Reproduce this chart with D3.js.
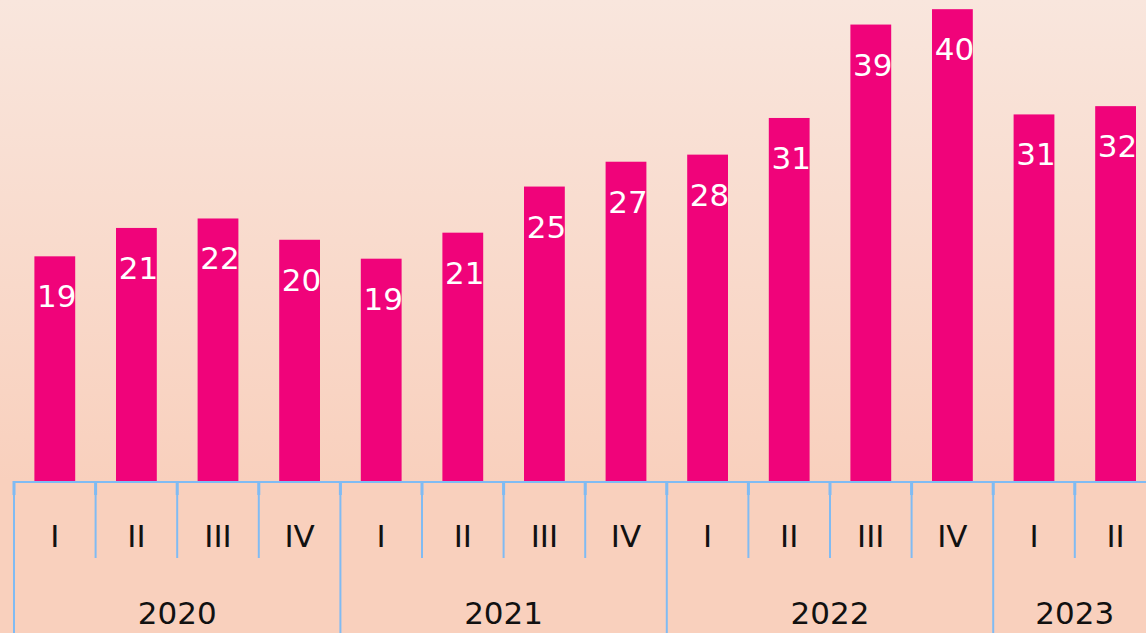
<!DOCTYPE html>
<html>
<head>
<meta charset="utf-8">
<script src="https://cdn.jsdelivr.net/npm/d3@7"></script>
<style>
  html, body { margin: 0; padding: 0; overflow: hidden; }
  svg { display: block; font-family: "DejaVu Sans", sans-serif; }
</style>
</head>
<body>
<svg width="1146" height="633"></svg>
<script>
var quarters = ["I", "II", "III", "IV", "I", "II", "III", "IV", "I", "II", "III", "IV", "I", "II"];
var yearOf = ["2020", "2020", "2020", "2020", "2021", "2021", "2021", "2021", "2022", "2022", "2022", "2022", "2023", "2023"];
var values = [19.0, 21.4, 22.2, 20.4, 18.8, 21.0, 24.9, 27.0, 27.6, 30.7, 38.6, 39.9, 31.0, 31.7];
var years = ["2020", "2021", "2022", "2023"];

var svg = d3.select("svg"),
    margin = {top: 8, left: 14, bottom: 152},
    width = 1142.4,
    baseY = +svg.attr("height") - margin.bottom,
    lineColor = "#80bbf3";

var defs = svg.append("defs");
var grad = defs.append("linearGradient")
    .attr("id", "bg")
    .attr("x1", 0).attr("y1", 0).attr("x2", 0).attr("y2", 1);
grad.append("stop").attr("offset", "0%").attr("stop-color", "#f9e6dd");
grad.append("stop").attr("offset", "76%").attr("stop-color", "#f9d0bd");
grad.append("stop").attr("offset", "100%").attr("stop-color", "#f9d0bd");

svg.append("rect")
    .attr("width", 1146)
    .attr("height", 633)
    .attr("fill", "url(#bg)");

var idx = d3.range(values.length);

var x = d3.scaleBand()
    .domain(idx)
    .range([margin.left, margin.left + width])
    .paddingInner(0.5)
    .paddingOuter(0.25);

var y = d3.scaleLinear()
    .domain([0, 40])
    .range([baseY, margin.top]);

var edge = function(i) { return x(i) - (x.step() - x.bandwidth()) / 2; };

// bars
svg.selectAll(".bar")
    .data(idx)
    .enter().append("rect")
        .attr("class", "bar")
        .attr("x", function(i) { return x(i); })
        .attr("y", function(i) { return y(values[i]); })
        .attr("width", x.bandwidth())
        .attr("height", function(i) { return baseY - y(values[i]); })
        .attr("fill", "#f0037a");

// value labels
svg.selectAll(".label")
    .data(idx)
    .enter().append("text")
        .attr("class", "label")
        .attr("x", function(i) { return x(i) + x.bandwidth() / 2 + 2; })
        .attr("y", function(i) { return y(values[i]) + 51; })
        .attr("text-anchor", "middle")
        .attr("fill", "#fff")
        .style("font-size", "31px")
        .text(function(i) { return d3.format(".0f")(values[i]); });

// axis: category lines
var axis = svg.append("g").attr("class", "axis");

axis.append("line")
    .attr("x1", margin.left).attr("x2", margin.left + width)
    .attr("y1", baseY + 1).attr("y2", baseY + 1)
    .attr("stroke", lineColor).attr("stroke-width", 2);

axis.selectAll(".qsep")
    .data(idx)
    .enter().append("line")
        .attr("class", "qsep")
        .attr("x1", function(i) { return edge(i); })
        .attr("x2", function(i) { return edge(i); })
        .attr("y1", baseY)
        .attr("y2", function(i) { return (i === 0 || yearOf[i] !== yearOf[i - 1]) ? 633 : baseY + 77; })
        .attr("stroke", lineColor).attr("stroke-width", 2);

axis.selectAll(".tick")
    .data(idx)
    .enter().append("line")
        .attr("class", "tick")
        .attr("x1", function(i) { return edge(i); })
        .attr("x2", function(i) { return edge(i); })
        .attr("y1", baseY)
        .attr("y2", baseY + 14)
        .attr("stroke", lineColor).attr("stroke-width", 3);

axis.selectAll(".qlabel")
    .data(idx)
    .enter().append("text")
        .attr("class", "qlabel")
        .attr("x", function(i) { return x(i) + x.bandwidth() / 2; })
        .attr("y", baseY + 66)
        .attr("text-anchor", "middle")
        .attr("fill", "#111")
        .style("font-size", "31px")
        .text(function(i) { return quarters[i]; });

axis.selectAll(".ylabel")
    .data(years)
    .enter().append("text")
        .attr("class", "ylabel")
        .attr("x", function(yr) {
            var members = idx.filter(function(i) { return yearOf[i] === yr; });
            var left = edge(members[0]),
                right = edge(members[members.length - 1]) + x.step();
            return (left + right) / 2;
        })
        .attr("y", baseY + 143)
        .attr("text-anchor", "middle")
        .attr("fill", "#111")
        .style("font-size", "31px")
        .text(function(yr) { return yr; });
</script>
</body>
</html>
